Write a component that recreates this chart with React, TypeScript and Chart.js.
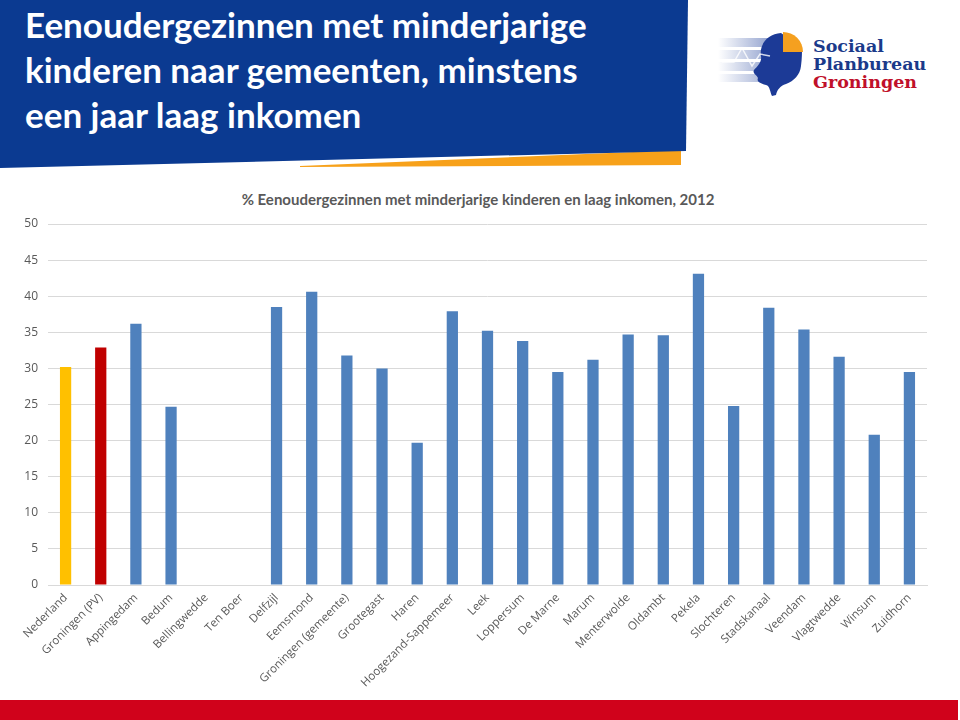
import React, { useEffect, useRef } from "react";
import { Chart, registerables } from "chart.js";

Chart.register(...registerables);

const categories = [
  "Nederland", "Groningen (PV)", "Appingedam", "Bedum", "Bellingwedde", "Ten Boer",
  "Delfzijl", "Eemsmond", "Groningen (gemeente)", "Grootegast", "Haren",
  "Hoogezand-Sappemeer", "Leek", "Loppersum", "De Marne", "Marum", "Menterwolde",
  "Oldambt", "Pekela", "Slochteren", "Stadskanaal", "Veendam", "Vlagtwedde",
  "Winsum", "Zuidhorn",
];
const values: (number | null)[] = [
  30.2, 32.9, 36.2, 24.7, null, null, 38.5, 40.6, 31.8, 30.0, 19.7, 37.9, 35.2,
  33.8, 29.5, 31.2, 34.7, 34.6, 43.1, 24.8, 38.4, 35.4, 31.6, 20.8, 29.5,
];
const yMin = 0;
const yMax = 50;
const yStep = 5;
const chartTitle = "% Eenoudergezinnen met minderjarige kinderen en laag inkomen, 2012";
const headerLines = [
  "Eenoudergezinnen met minderjarige",
  "kinderen naar gemeenten, minstens",
  "een jaar laag inkomen",
];

const BLUE = "#4f81bd";
const YELLOW = "#ffc000";
const RED = "#c00000";

function barColor(i: number) {
  if (i === 0) return YELLOW;
  if (i === 1) return RED;
  return BLUE;
}

export default function App() {
  const ref = useRef<HTMLCanvasElement>(null);
  useEffect(() => {
    if (!ref.current) return;
    const chart = new Chart(ref.current, {
      type: "bar",
      data: {
        labels: categories,
        datasets: [
          {
            data: values,
            backgroundColor: categories.map((_, i) => barColor(i)),
            barPercentage: 0.32,
            categoryPercentage: 1,
          },
        ],
      },
      options: {
        responsive: false,
        animation: false,
        layout: { padding: { top: 44, right: 33, left: 0, bottom: 0 } },
        plugins: { legend: { display: false }, tooltip: { enabled: false }, title: { display: false } },
        scales: {
          x: {
            grid: { display: false, drawTicks: false },
            border: { display: true, color: "#d9d9d9" },
            ticks: {
              color: "#595959",
              font: { family: "'Open Sans', sans-serif", size: 11.5 },
              minRotation: 45,
              maxRotation: 45,
              autoSkip: false,
              padding: 6,
            },
            afterFit: (s: any) => { s.height = 115; },
          },
          y: {
            min: yMin,
            max: yMax,
            grid: { color: "#d9d9d9", drawTicks: false },
            border: { display: false },
            ticks: {
              stepSize: yStep,
              color: "#595959",
              font: { family: "'Open Sans', sans-serif", size: 12 },
              padding: 10,
            },
            afterFit: (s: any) => { s.width = 48; },
          },
        },
      },
    });
    return () => chart.destroy();
  }, []);

  return (
    <div style={{ position: "fixed", left: 0, top: 0, width: 960, height: 720, background: "#fff", overflow: "hidden" }}>
      <svg width={960} height={720} style={{ position: "absolute", left: 0, top: 0 }}>
        <polygon points="300,166 681,150 681,165 300,167" fill="#f7a11a" />
        <polygon points="0,0 688,0 686,151 0,168" fill="#0b3a91" />
        <rect x={0} y={700} width={958} height={20} fill="#d0021b" />
        <defs>
          <linearGradient id="fade" x1="0" x2="1" y1="0" y2="0">
            <stop offset="0" stopColor="#ffffff" />
            <stop offset="1" stopColor="#1e3f9a" />
          </linearGradient>
        </defs>
        <rect x={718} y={38} width={60} height={9} fill="url(#fade)" opacity={0.55} />
        <rect x={718} y={50} width={60} height={9} fill="url(#fade)" opacity={0.55} />
        <rect x={718} y={62} width={60} height={9} fill="url(#fade)" opacity={0.55} />
        <rect x={718} y={74} width={55} height={8} fill="url(#fade)" opacity={0.45} />
        <path
          d="M781,33 C768,34 759,44 761,56 C762,62 758,66 754,70 C752,73 757,75 758,78 C756,82 762,84 766,85 C770,86 770,92 772,96 L776,95 C777,90 780,86 786,84 C794,81 800,75 801,66 C802,58 802,52 802,48 Z"
          fill="#1c3a96"
        />
        <polyline points="722,62 734,62 742,48 752,66 760,54 770,56" fill="none" stroke="#ffffff" strokeWidth={1.5} opacity={0.8} />
        <path d="M783,52 L783,32 A20,20 0 0 1 803,52 Z" fill="#f5a01f" />
        <text x={813} y={52} fontFamily="'DejaVu Serif', serif" fontWeight="bold" fontSize={17.5} fill="#1b3a8a">Sociaal</text>
        <text x={813} y={70} fontFamily="'DejaVu Serif', serif" fontWeight="bold" fontSize={17.5} fill="#1b3a8a">Planbureau</text>
        <text x={813} y={88} fontFamily="'DejaVu Serif', serif" fontWeight="bold" fontSize={17.5} fill="#c0102a">Groningen</text>
      </svg>
      <div style={{ position: "absolute", left: 25, top: 2, color: "#fff", fontFamily: "Lato, sans-serif", fontWeight: "bold", fontSize: 35, lineHeight: "45px" }}>
        {headerLines.map((l) => (
          <div key={l}>{l}</div>
        ))}
      </div>
      <div style={{ position: "absolute", left: 0, width: 956, top: 189, textAlign: "center", color: "#595959", fontFamily: "Lato, sans-serif", fontWeight: "bold", fontSize: 15, lineHeight: "20px" }}>
        {chartTitle}
      </div>
      <canvas ref={ref} width={960} height={520} style={{ position: "absolute", left: 0, top: 180, width: 960, height: 520 }} />
    </div>
  );
}
